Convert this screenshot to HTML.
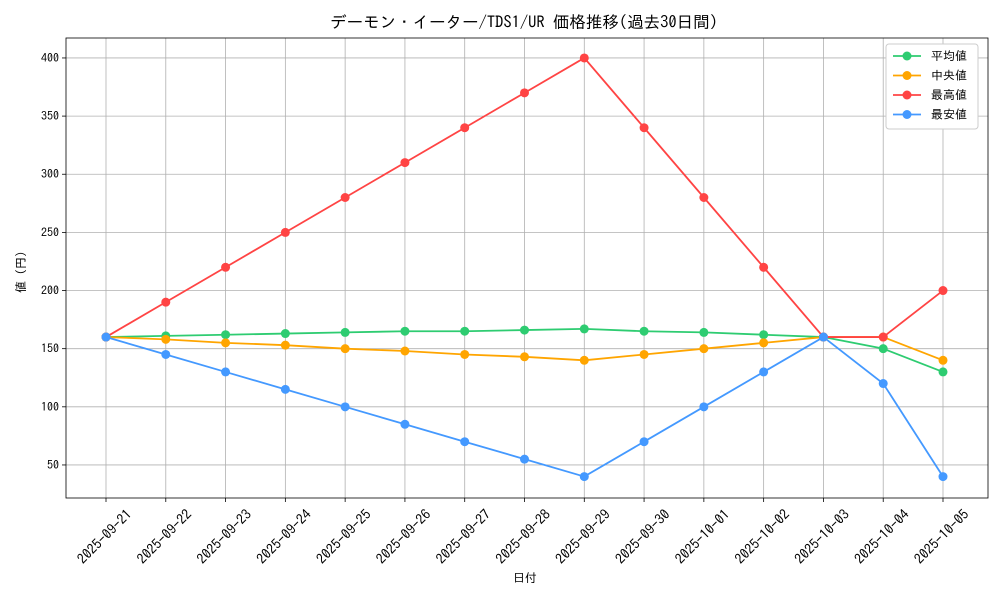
<!DOCTYPE html>
<html><head><meta charset="utf-8"><style>
body{margin:0;background:#fff;}
svg text{font-family:"IPAGothic","Liberation Sans","Noto Sans CJK JP",sans-serif;fill:#000;}
</style></head><body>
<svg id="chart" width="1000" height="600" xmlns="http://www.w3.org/2000/svg">
<rect x="0" y="0" width="1000" height="600" fill="#fff"/>
<text x="524" y="28" font-size="16.5" text-anchor="middle">デーモン・イーター/TDS1/UR 価格推移(過去30日間)</text>
<g id="grid"></g>
<g id="axes"></g>
<g id="series"></g>
<text x="525" y="582" font-size="12" text-anchor="middle">日付</text>
<text transform="translate(25,272) rotate(-90)" font-size="12" text-anchor="middle">値 (円)</text>
<g id="legend"></g>
</svg>
<script>
const categories=["2025-09-21","2025-09-22","2025-09-23","2025-09-24","2025-09-25","2025-09-26","2025-09-27","2025-09-28","2025-09-29","2025-09-30","2025-10-01","2025-10-02","2025-10-03","2025-10-04","2025-10-05"];
const avgValues=[160,161,162,163,164,165,165,166,167,165,164,162,160,150,130];
const medianValues=[160,158,155,153,150,148,145,143,140,145,150,155,160,160,140];
const maxValues=[160,190,220,250,280,310,340,370,400,340,280,220,160,160,200];
const minValues=[160,145,130,115,100,85,70,55,40,70,100,130,160,120,40];
const yTicks=[50,100,150,200,250,300,350,400];
const seriesNames=["平均値","中央値","最高値","最安値"];

const NS="http://www.w3.org/2000/svg";
const L=66,R=988,T=38,B=498;
function xs(i){return 106+i*(943-106)/(categories.length-1);}
function ys(v){return 523.1-v*(465-58)/350;}
function mk(tag,attrs,parent){const e=document.createElementNS(NS,tag);for(const k in attrs)e.setAttribute(k,attrs[k]);parent.appendChild(e);return e;}
const grid=document.getElementById('grid'),axes=document.getElementById('axes'),ser=document.getElementById('series'),leg=document.getElementById('legend');
categories.forEach((c,i)=>{
  const x=xs(i);
  const g=mk('line',{x1:x,x2:x,y1:T,y2:B,stroke:'#b0b0b0','stroke-width':0.8},grid);
  
  
  const t=mk('line',{x1:x,x2:x,y1:B,y2:B+4,stroke:'#000','stroke-width':0.8},axes);
  
  
  const lb=mk('text',{'font-size':14,'text-anchor':'middle',transform:`translate(${x+2},${B+42}) rotate(-45)`},axes);
  lb.textContent=c;
  
  
});
yTicks.forEach(v=>{
  const y=ys(v);
  const g=mk('line',{x1:L,x2:R,y1:y,y2:y,stroke:'#b0b0b0','stroke-width':0.8},grid);
  
  
  const t=mk('line',{x1:L-4,x2:L,y1:y,y2:y,stroke:'#000','stroke-width':0.8},axes);
  
  
  const lb=mk('text',{x:L-7,y:y+4,'font-size':12,'text-anchor':'end'},axes);
  lb.textContent=v;
  
  
});
const frame=mk('rect',{x:L,y:T,width:R-L,height:B-T,fill:'none',stroke:'#000','stroke-width':0.8},axes);


const allSeries=[avgValues,medianValues,maxValues,minValues];
const colors=['#2ecc71','#ffa500','#ff4444','#4499ff'];
const keys=['average','median','max','min'];
allSeries.forEach((vals,s)=>{
  const g=mk('g',{},ser);
  
  
  const p=mk('polyline',{points:vals.map((v,i)=>xs(i)+','+ys(v)).join(' '),fill:'none',stroke:colors[s],'stroke-width':1.8},g);
  
  
  vals.forEach((v,i)=>{
    const c=mk('circle',{cx:xs(i),cy:ys(v),r:4.5,fill:colors[s]},g);
    
    
  });
});
const box=mk('rect',{x:886,y:44,width:92,height:85,fill:'#fff',stroke:'#ccc','stroke-width':1,rx:3},leg);


seriesNames.forEach((n,s)=>{
  const y=56+s*19.5;
  const g=mk('g',{},leg);
  
  
  mk('line',{x1:893,x2:921,y1:y,y2:y,stroke:colors[s],'stroke-width':1.8},g);
  mk('circle',{cx:907,cy:y,r:4.5,fill:colors[s]},g);
  const t=mk('text',{x:931,y:y+4,'font-size':12},g);
  t.textContent=n;
});
</script>
</body></html>
